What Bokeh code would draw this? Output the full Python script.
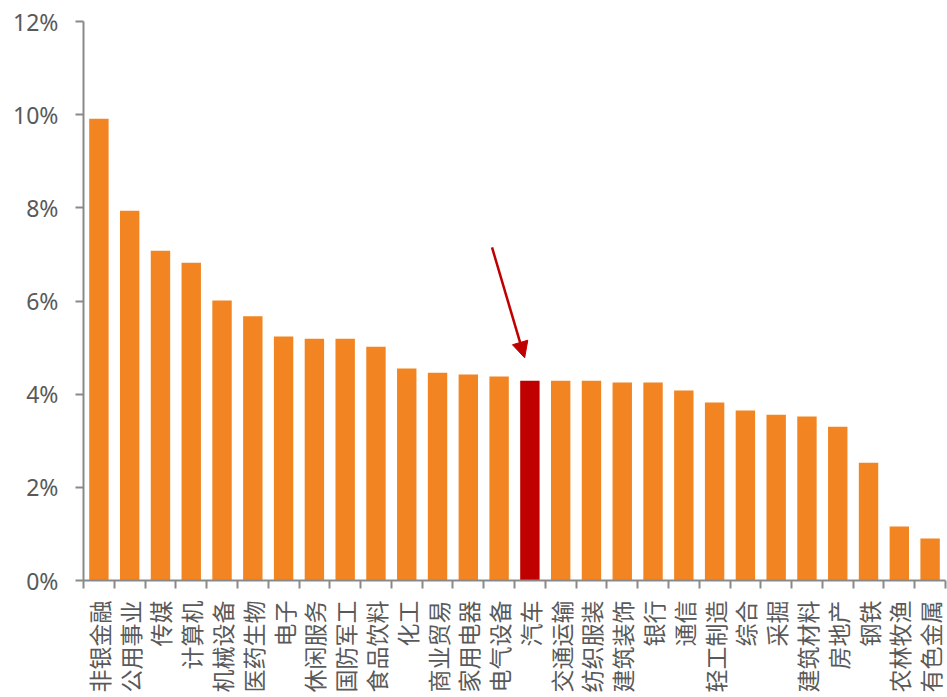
import math
from bokeh.plotting import figure
from bokeh.models import (ColumnDataSource, FixedTicker, PrintfTickFormatter,
                          Range1d, Arrow, NormalHead)
from bokeh.embed import file_html
from bokeh.resources import INLINE

# Industry names and their values (%)
industries = ["非银金融", "公用事业", "传媒", "计算机", "机械设备", "医药生物", "电子",
              "休闲服务", "国防军工", "食品饮料", "化工", "商业贸易", "家用电器", "电气设备",
              "汽车", "交通运输", "纺织服装", "建筑装饰", "银行", "通信", "轻工制造",
              "综合", "采掘", "建筑材料", "房地产", "钢铁", "农林牧渔", "有色金属"]
values = [9.91, 7.94, 7.08, 6.82, 6.01, 5.67, 5.24,
          5.19, 5.19, 5.02, 4.55, 4.46, 4.42, 4.38,
          4.29, 4.29, 4.29, 4.25, 4.25, 4.08, 3.82,
          3.65, 3.56, 3.52, 3.30, 2.53, 1.16, 0.90]
highlight = "汽车"
y_ticks = [0, 2, 4, 6, 8, 10, 12]

ORANGE = "#F28422"
RED = "#C00000"
AXIS_GRAY = "#898989"
TEXT_GRAY = "#595959"

xs = list(range(len(industries)))
colors = [RED if name == highlight else ORANGE for name in industries]
src = ColumnDataSource(dict(x=xs, top=values, color=colors, name=industries))

p = figure(width=947, height=697, output_backend="svg", toolbar_location=None,
           x_range=Range1d(-0.5, len(industries) - 0.5), y_range=Range1d(0, 12),
           min_border_top=21, min_border_left=83, min_border_right=2,
           min_border_bottom=117)
p.outline_line_color = None
p.xgrid.grid_line_color = None
p.ygrid.grid_line_color = None
p.background_fill_color = "white"
p.border_fill_color = "white"

p.vbar(x="x", top="top", width=0.63, fill_color="color", line_color=None, source=src)

# x axis: names at bar centres, tick marks between bars
xa = p.xaxis[0]
xa.ticker = FixedTicker(ticks=xs, minor_ticks=[i - 0.5 for i in range(len(industries) + 1)])
xa.major_label_overrides = {i: n for i, n in enumerate(industries)}
xa.major_label_orientation = math.pi / 2
xa.major_tick_line_color = None
xa.minor_tick_in = 0
xa.minor_tick_out = 8
xa.minor_tick_line_color = AXIS_GRAY
xa.minor_tick_line_width = 2
xa.axis_line_color = AXIS_GRAY
xa.axis_line_width = 2
xa.major_label_standoff = 12
xa.major_label_text_font = "Noto Sans CJK SC"
xa.major_label_text_font_size = "23px"
xa.major_label_text_color = TEXT_GRAY

# y axis in percent
ya = p.yaxis[0]
ya.ticker = FixedTicker(ticks=y_ticks)
ya.formatter = PrintfTickFormatter(format="%d%%")
ya.major_tick_in = 0
ya.major_tick_out = 8
ya.minor_tick_line_color = None
ya.major_tick_line_color = AXIS_GRAY
ya.major_tick_line_width = 2
ya.axis_line_color = AXIS_GRAY
ya.axis_line_width = 2
ya.major_label_standoff = 17
ya.major_label_text_font = "Noto Sans"
ya.major_label_text_font_size = "23px"
ya.major_label_text_color = TEXT_GRAY

# arrow pointing at the highlighted bar
hi = industries.index(highlight)
hv = values[hi]
p.add_layout(Arrow(end=NormalHead(size=16, fill_color=RED, line_color=RED),
                   x_start=hi - 1.23, y_start=hv + 2.86,
                   x_end=hi - 0.17, y_end=hv + 0.49,
                   line_color=RED, line_width=2.5))

open("out.html", "w").write(file_html(p, INLINE))
